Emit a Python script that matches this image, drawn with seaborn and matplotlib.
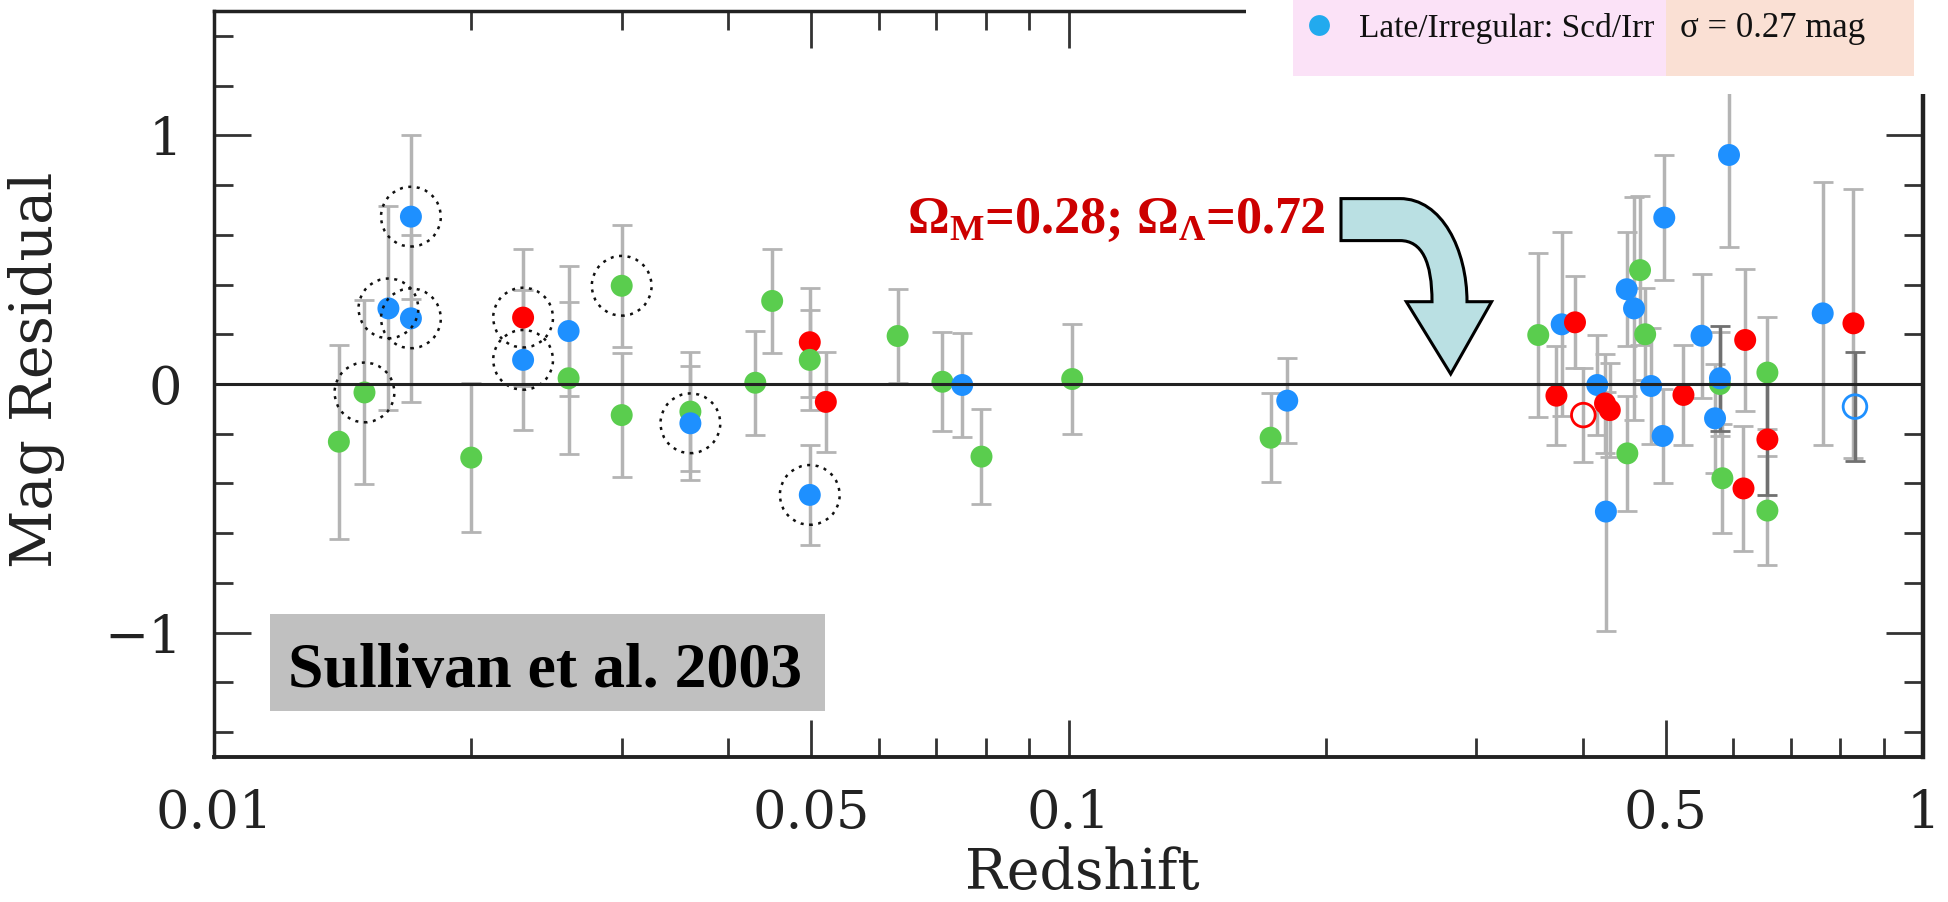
import matplotlib
matplotlib.use("Agg")
import numpy as np
import pandas as pd
import matplotlib.pyplot as plt
import seaborn as sns
from matplotlib.patches import Rectangle, PathPatch
from matplotlib.path import Path
from matplotlib.lines import Line2D
from matplotlib.ticker import FixedLocator, FixedFormatter, NullFormatter

# ---------------- data ----------------
redshift = [0.0140, 0.0150, 0.0160, 0.0170, 0.0170, 0.0200, 0.0230, 0.0230, 0.0260, 0.0260,
            0.0300, 0.0300, 0.0361, 0.0361, 0.0430, 0.0450, 0.0498, 0.0498, 0.0498, 0.0520,
            0.0631, 0.0712, 0.0751, 0.0791, 0.1010, 0.1724, 0.1803,
            0.3546, 0.3777, 0.3915, 0.3724, 0.4004, 0.4157, 0.4245, 0.4300, 0.4255, 0.4508,
            0.4500, 0.4590, 0.4665, 0.4730, 0.4806, 0.4958, 0.4980, 0.5244, 0.5506, 0.5786,
            0.5786, 0.5710, 0.5824, 0.6193, 0.6165, 0.6575, 0.6575, 0.6575, 0.5929, 0.7632,
            0.8291, 0.8325]
residual = [-0.232, -0.034, 0.304, 0.673, 0.264, -0.296, 0.267, 0.097, 0.213, 0.023,
            0.395, -0.125, -0.111, -0.158, 0.005, 0.334, 0.168, 0.097, -0.446, -0.072,
            0.193, 0.009, -0.004, -0.292, 0.020, -0.216, -0.067,
            0.197, 0.240, 0.248, -0.047, -0.125, -0.004, -0.078, -0.105, -0.513, -0.279,
            0.381, 0.304, 0.458, 0.200, -0.008, -0.209, 0.669, -0.044, 0.194, 0.000,
            0.023, -0.138, -0.379, 0.177, -0.420, 0.046, -0.223, -0.509, 0.921, 0.284,
            0.244, -0.091]
error = [0.39, 0.37, 0.41, 0.33, 0.335, 0.30, 0.275, 0.28, 0.26, 0.305,
         0.245, 0.25, 0.24, 0.23, 0.21, 0.21, 0.22, 0.20, 0.20, 0.20,
         0.19, 0.20, 0.21, 0.19, 0.22, 0.18, 0.17,
         0.33, 0.37, 0.185, 0.20, 0.19, 0.20, 0.20, 0.19, 0.48, 0.23,
         0.23, 0.45, 0.30, 0.185, 0.235, 0.19, 0.25, 0.20, 0.25, 0.21,
         0.21, 0.22, 0.22, 0.285, 0.25, 0.225, 0.225, 0.22, 0.37, 0.53,
         0.54, 0.22]
host_type = ["spiral", "spiral", "late", "late", "late", "spiral", "early", "late", "late", "spiral",
             "spiral", "spiral", "spiral", "late", "spiral", "spiral", "early", "spiral", "late", "early",
             "spiral", "spiral", "late", "spiral", "spiral", "spiral", "late",
             "spiral", "late", "early", "early", "early", "late", "early", "early", "late", "spiral",
             "late", "late", "spiral", "spiral", "late", "late", "late", "early", "late", "spiral",
             "late", "late", "spiral", "early", "early", "spiral", "early", "spiral", "late", "late",
             "early", "late"]
circled = [0, 1, 1, 1, 1, 0, 1, 1, 0, 0,
           1, 0, 0, 1, 0, 0, 0, 0, 1, 0,
           0, 0, 0, 0, 0, 0, 0,
           0, 0, 0, 0, 0, 0, 0, 0, 0, 0,
           0, 0, 0, 0, 0, 0, 0, 0, 0, 0,
           0, 0, 0, 0, 0, 0, 0, 0, 0, 0,
           0, 0]
open_marker = [0] * 31 + [1] + [0] * 26 + [1]
dark_bar = [0] * 47 + [1] + [0] * 5 + [1] + [0] * 4 + [1]

x_major = [0.01, 0.05, 0.1, 0.5, 1.0]
x_major_labels = ["0.01", "0.05", "0.1", "0.5", "1"]
x_minor = [0.02, 0.03, 0.04, 0.06, 0.07, 0.08, 0.09, 0.2, 0.3, 0.4, 0.6, 0.7, 0.8, 0.9]
y_major = [-1, 0, 1]
y_major_labels = ["\u22121", "0", "1"]
y_minor = [-1.4, -1.2, -0.8, -0.6, -0.4, -0.2, 0.2, 0.4, 0.6, 0.8, 1.2, 1.4]

palette = {"early": "#FF0000", "spiral": "#5ACD4E", "late": "#1E90FF"}

df = pd.DataFrame({"z": redshift, "res": residual, "err": error, "type": host_type,
                   "circled": circled, "open": open_marker, "dark": dark_bar})

# ---------------- figure ----------------
W, H = 1948, 902
plt.rcParams["font.family"] = ["DejaVu Serif", "DejaVu Sans"]
plt.rcParams["mathtext.fontset"] = "custom"
plt.rcParams["mathtext.rm"] = "Liberation Serif:bold"
plt.rcParams["mathtext.it"] = "Liberation Serif:bold"
plt.rcParams["mathtext.bf"] = "Liberation Serif:bold"

fig = plt.figure(figsize=(W / 100, H / 100), dpi=100)
fig.patch.set_facecolor("white")
ax = fig.add_axes([214 / W, 145 / H, 1709 / W, 746 / H])

ax.set_xscale("log")
ax.set_xlim(0.01, 1.0)
ax.set_ylim(-1.5, 1.5)

# error bars
light = df[df["dark"] == 0]
dark = df[df["dark"] == 1]
ax.errorbar(light["z"], light["res"], yerr=light["err"], fmt="none", ecolor="#B4B4B4",
            elinewidth=2.5, capsize=7, capthick=2.0, zorder=2)
ax.errorbar(dark["z"], dark["res"], yerr=dark["err"], fmt="none", ecolor="#707070",
            elinewidth=2.5, capsize=7, capthick=2.0, zorder=2)

# filled points
filled = df[df["open"] == 0]
sns.scatterplot(data=filled, x="z", y="res", hue="type", palette=palette, s=250,
                linewidth=0, legend=False, ax=ax, zorder=3)
# open points
hollow = df[df["open"] == 1]
ax.scatter(hollow["z"], hollow["res"], s=290, facecolors="none",
           edgecolors=[palette[t] for t in hollow["type"]], linewidths=2.0, zorder=3)
# dotted rings
ring = df[df["circled"] == 1]
ax.scatter(ring["z"], ring["res"], s=1850, facecolors="none", edgecolors="#111111",
           linewidths=1.8, linestyles=(0, (1.2, 2.2)), zorder=4)

ax.axhline(0, color="#222222", lw=2.2, zorder=5)

# ticks
ax.xaxis.set_major_locator(FixedLocator(x_major))
ax.xaxis.set_major_formatter(FixedFormatter(x_major_labels))
ax.xaxis.set_minor_locator(FixedLocator(x_minor))
ax.xaxis.set_minor_formatter(NullFormatter())
ax.yaxis.set_major_locator(FixedLocator(y_major))
ax.yaxis.set_major_formatter(FixedFormatter(y_major_labels))
ax.yaxis.set_minor_locator(FixedLocator(y_minor))
ax.tick_params(which="both", direction="in", top=True, right=True, color="#333333", width=2)
ax.tick_params(which="major", length=26.5, labelsize=38, labelcolor="#222222")
ax.tick_params(which="minor", length=13.5)
ax.tick_params(axis="x", pad=22)
ax.tick_params(axis="y", pad=23)
ax.set_xlabel("")
ax.set_ylabel("")

for side, lw in [("left", 2.5), ("bottom", 2.8), ("right", 3.2), ("top", 2.5)]:
    ax.spines[side].set_linewidth(lw)
    ax.spines[side].set_color("#222222")

# axis labels
fig.text(1082 / W, 1 / H, "Redshift", ha="center", va="bottom", fontsize=40, color="#222222")
fig.text(8 / W, 1 - 370 / H, "Mag Residual", rotation=90, ha="left", va="center",
         fontsize=41, color="#222222")

# annotation: Sullivan box
fig.patches.append(Rectangle((270 / W, 1 - 711 / H), 555 / W, 97 / H, transform=fig.transFigure,
                             facecolor="#C0C0C0", edgecolor="none", zorder=6))
fig.text(545 / W, 1 - 687 / H, "Sullivan et al. 2003", ha="center", va="baseline",
         fontsize=46, fontweight="bold", family=["Liberation Serif", "DejaVu Serif"],
         color="black", zorder=7)

# cosmology text
fig.text(907 / W, 1 - 233 / H, r"$\Omega_{M}$=0.28; $\Omega_{\Lambda}$=0.72", ha="left",
         va="baseline", fontsize=37.5, fontweight="bold",
         family=["Liberation Serif", "DejaVu Serif"], color="#CC0000", zorder=7)

# curved arrow
def P(x, y):
    return (x / W, 1 - y / H)

verts = [P(1341, 198.6), P(1400, 198.6),
         P(1442, 198.6), P(1467, 250), P(1467, 301.7),
         P(1491.6, 301.7), P(1450.7, 374), P(1406.3, 301.7), P(1432, 301.7),
         P(1432, 262), P(1422, 240.6), P(1400, 240.6),
         P(1341, 240.6), P(1341, 198.6)]
codes = [Path.MOVETO, Path.LINETO,
         Path.CURVE4, Path.CURVE4, Path.CURVE4,
         Path.LINETO, Path.LINETO, Path.LINETO, Path.LINETO,
         Path.CURVE4, Path.CURVE4, Path.CURVE4,
         Path.LINETO, Path.CLOSEPOLY]
fig.patches.append(PathPatch(Path(verts, codes), transform=fig.transFigure,
                             facecolor="#BAE0E3", edgecolor="black", lw=2.2, zorder=12))

# white cover of the top-right corner and clipped legend row
fig.patches.append(Rectangle((1246 / W, 1 - 94 / H), (W - 1246) / W, 94 / H + 0.01,
                             transform=fig.transFigure, facecolor="white", edgecolor="none",
                             zorder=10))
fig.patches.append(Rectangle((1293 / W, 1 - 76 / H), (1666 - 1293) / W, 76 / H + 0.01,
                             transform=fig.transFigure, facecolor="#FBE2F7", edgecolor="none",
                             zorder=11))
fig.patches.append(Rectangle((1666 / W, 1 - 76 / H), (1914 - 1666) / W, 76 / H + 0.01,
                             transform=fig.transFigure, facecolor="#FAE0D4", edgecolor="none",
                             zorder=11))
fig.add_artist(Line2D([1319 / W], [1 - 25 / H], marker="o", markersize=15, color="#22AAEE",
                      markeredgewidth=0, linestyle="none", transform=fig.transFigure, zorder=13))
fig.text(1359 / W, 1 - 37 / H, "Late/Irregular: Scd/Irr", ha="left", va="baseline", fontsize=24,
         family=["Liberation Serif", "DejaVu Serif"], color="#111111", zorder=13)
fig.text(1680 / W, 1 - 37 / H, "\u03c3 = 0.27 mag", ha="left", va="baseline", fontsize=25,
         family=["Liberation Serif", "DejaVu Serif"], color="#111111", zorder=13)

fig.savefig("out.png", dpi=100, facecolor="white")
